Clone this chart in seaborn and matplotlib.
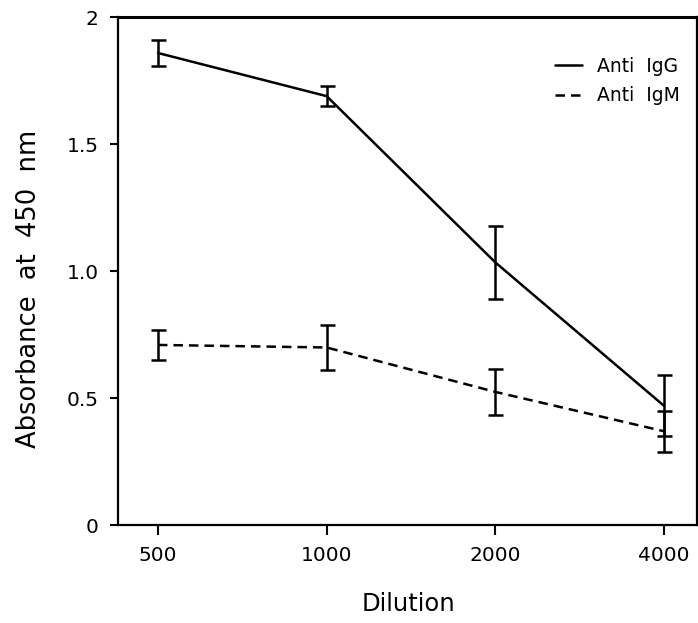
import numpy as np
import matplotlib
matplotlib.use("Agg")
import matplotlib.pyplot as plt
import pandas as pd
import seaborn as sns

# values
dilutions = ["500", "1000", "2000", "4000"]
igg_mean = [1.86, 1.69, 1.035, 0.47]
igg_err = [0.05, 0.04, 0.145, 0.12]
igm_mean = [0.71, 0.70, 0.525, 0.37]
igm_err = [0.06, 0.09, 0.09, 0.08]
y_ticks = [0, 0.5, 1.0, 1.5, 2]
y_labels = ["0", "0.5", "1.0", "1.5", "2"]

pos = np.arange(len(dilutions))
df = pd.DataFrame({
    "pos": np.concatenate([pos, pos]),
    "absorbance": igg_mean + igm_mean,
    "series": ["Anti  IgG"] * 4 + ["Anti  IgM"] * 4,
})

sns.set_style("ticks")
plt.rcParams["font.family"] = ["DejaVu Sans"]
plt.rcParams["text.color"] = "black"
plt.rcParams["axes.labelcolor"] = "black"
plt.rcParams["xtick.color"] = "black"
plt.rcParams["ytick.color"] = "black"

fig = plt.figure(figsize=(6.98, 6.23), dpi=100)
ax = fig.add_axes([0.169, 0.157, 0.8295, 0.815])

sns.lineplot(data=df, x="pos", y="absorbance", style="series",
             dashes={"Anti  IgG": "", "Anti  IgM": (3.8, 2.4)},
             color="black", linewidth=1.8, ax=ax)

ax.errorbar(pos, igg_mean, yerr=igg_err, fmt="none", ecolor="black",
            elinewidth=1.8, capsize=5.4, capthick=1.8)
ax.errorbar(pos, igm_mean, yerr=igm_err, fmt="none", ecolor="black",
            elinewidth=1.8, capsize=5.4, capthick=1.8)

ax.set_xlim(-0.237, 3.195)
ax.set_ylim(0, 2)
ax.set_xticks(pos)
ax.set_xticklabels(dilutions, fontsize=14.5)
ax.set_yticks(y_ticks)
ax.set_yticklabels(y_labels, fontsize=14.5)
ax.tick_params(axis="x", direction="out", length=7, width=1.5, pad=8)
ax.tick_params(axis="y", direction="out", length=6, width=1.5, pad=8)
ax.set_xlabel("Dilution", fontsize=17.5)
ax.set_ylabel("Absorbance  at  450  nm", fontsize=18.5)
ax.xaxis.set_label_coords(0.501, -0.155)
ax.yaxis.set_label_coords(-0.154, 0.465)
ax.xaxis.label.set_va("center")
ax.yaxis.label.set_va("center")

for side in ["left", "bottom", "right"]:
    ax.spines[side].set_linewidth(1.6)
    ax.spines[side].set_color("black")
ax.spines["top"].set_linewidth(2.2)
ax.spines["top"].set_color("black")

leg = ax.legend(loc="upper left", frameon=False, fontsize=13.5,
                handlelength=1.45, handletextpad=0.8, labelspacing=0.55,
                borderpad=0, borderaxespad=0,
                bbox_to_anchor=(555 / 698, 1 - 57 / 623),
                bbox_transform=fig.transFigure)
leg.set_title(None)

fig.savefig("out.png", dpi=100)
